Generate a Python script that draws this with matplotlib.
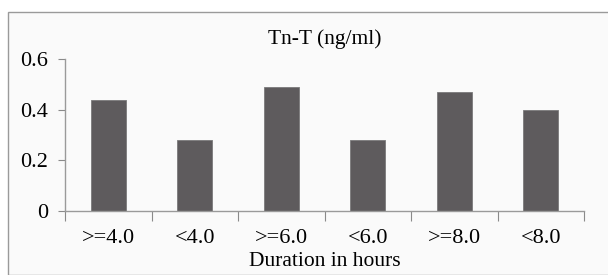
import matplotlib
matplotlib.use("Agg")
import matplotlib.pyplot as plt
from matplotlib.patches import Rectangle
import numpy as np

categories = [">=4.0", "<4.0", ">=6.0", "<6.0", ">=8.0", "<8.0"]
values = [0.44, 0.28, 0.49, 0.28, 0.47, 0.40]
yticks = [0, 0.2, 0.4, 0.6]
ytick_labels = ["0", "0.2", "0.4", "0.6"]

plt.rcParams['font.family'] = ['Liberation Serif', 'DejaVu Serif']
fig = plt.figure(figsize=(6.08, 2.75), dpi=100)
fig.patch.set_facecolor('white')
fig.patches.append(Rectangle((8/608, 0), 1.2, 1 - 12/275, transform=fig.transFigure,
                             facecolor='#fafafa', edgecolor='#9a9a9a', linewidth=1.0, zorder=-10))

ax = fig.add_axes([65/608, 1 - 211/275, (584 - 65)/608, (211 - 59)/275])
ax.set_zorder(5)
ax.set_facecolor('none')
x = np.arange(len(categories)) + 0.5
ax.bar(x, values, width=0.41, color='#5e5b5d', edgecolor='#7a7a7a', linewidth=0.6)
ax.set_xlim(0, len(categories))
ax.set_ylim(0, 0.6)
ax.set_yticks(yticks)
ax.set_yticklabels(ytick_labels, fontsize=16)
ax.set_xticks(np.arange(len(categories) + 1))
ax.set_xticklabels([])
ax.set_xticks(x, minor=True)
ax.set_xticklabels(categories, minor=True, fontsize=16)
ax.tick_params(axis='x', which='minor', length=0, pad=13)
ax.tick_params(axis='x', which='major', length=7, color='#8a8a8a', direction='out')
ax.tick_params(axis='y', length=5, color='#8a8a8a', pad=7)
for s in ['top', 'right']:
    ax.spines[s].set_visible(False)
for s in ['left', 'bottom']:
    ax.spines[s].set_color('#9a9a9a')
    ax.spines[s].set_linewidth(1.0)
ax.spines['bottom'].set_bounds(0, 6)
ax.set_xlabel("Duration in hours", fontsize=15.5, labelpad=3)
ax.set_title("Tn-T (ng/ml)", fontsize=15.5, pad=11)

fig.savefig("out.png", dpi=100)
